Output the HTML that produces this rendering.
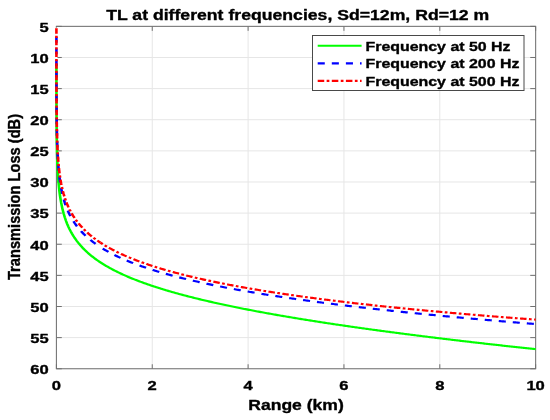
<!DOCTYPE html>
<html><head><meta charset="utf-8"><title>TL at different frequencies</title>
<style>html,body{margin:0;padding:0;background:#fff}svg{display:block}text{font-family:"Liberation Sans",Arial,Helvetica,sans-serif;font-weight:bold;fill:#000;stroke:#000;stroke-width:0.35px;stroke-linejoin:round}</style></head><body>
<svg width="550" height="420" viewBox="0 0 550 420">
<defs><filter id="soft" x="0" y="0" width="100%" height="100%" filterUnits="userSpaceOnUse"><feGaussianBlur stdDeviation="0.45"/></filter></defs>
<rect width="550" height="420" fill="#fff"/>
<g filter="url(#soft)">
<rect width="550" height="420" fill="#fff"/>
<path d="M152.25,26.35V368.75M248.10,26.35V368.75M343.95,26.35V368.75M439.80,26.35V368.75M56.4,57.48H535.65M56.4,88.60H535.65M56.4,119.73H535.65M56.4,150.86H535.65M56.4,181.99H535.65M56.4,213.11H535.65M56.4,244.24H535.65M56.4,275.37H535.65M56.4,306.50H535.65M56.4,337.62H535.65" stroke="#e6e6e6" stroke-width="1" fill="none"/>
<path d="M56.40,368.75v-4.5M56.40,26.35v4.5M152.25,368.75v-4.5M152.25,26.35v4.5M248.10,368.75v-4.5M248.10,26.35v4.5M343.95,368.75v-4.5M343.95,26.35v4.5M439.80,368.75v-4.5M439.80,26.35v4.5M535.65,368.75v-4.5M535.65,26.35v4.5M56.4,26.35h5.4M535.65,26.35h-5.4M56.4,57.48h5.4M535.65,57.48h-5.4M56.4,88.60h5.4M535.65,88.60h-5.4M56.4,119.73h5.4M535.65,119.73h-5.4M56.4,150.86h5.4M535.65,150.86h-5.4M56.4,181.99h5.4M535.65,181.99h-5.4M56.4,213.11h5.4M535.65,213.11h-5.4M56.4,244.24h5.4M535.65,244.24h-5.4M56.4,275.37h5.4M535.65,275.37h-5.4M56.4,306.50h5.4M535.65,306.50h-5.4M56.4,337.62h5.4M535.65,337.62h-5.4M56.4,368.75h5.4M535.65,368.75h-5.4" stroke="#707070" stroke-width="1" fill="none"/>
<rect x="56.4" y="26.35" width="479.25" height="342.4" fill="none" stroke="#707070" stroke-width="1.05"/>
<path d="M56.4,27.6V63" stroke="#fff" stroke-width="2"/>
<g transform="scale(1.21,1)" fill="none" stroke-width="2.15" stroke-linejoin="round">
<path d="M46.63,64.00 L46.63,64.52 L46.63,65.94 L46.63,67.37 L46.63,68.80 L46.63,70.22 L46.63,71.65 L46.63,73.08 L46.63,74.50 L46.64,75.93 L46.64,77.36 L46.64,78.79 L46.64,80.21 L46.64,81.64 L46.64,83.07 L46.65,84.50 L46.65,85.92 L46.65,87.35 L46.65,88.78 L46.66,90.21 L46.66,91.64 L46.66,93.07 L46.66,94.49 L46.67,95.92 L46.67,97.35 L46.67,98.78 L46.68,100.21 L46.68,101.64 L46.68,103.07 L46.69,104.50 L46.69,105.93 L46.70,107.36 L46.70,108.79 L46.71,110.22 L46.72,111.66 L46.72,113.09 L46.73,114.52 L46.73,115.95 L46.74,117.38 L46.75,118.82 L46.76,120.25 L46.77,121.68 L46.78,123.12 L46.79,124.55 L46.80,125.98 L46.81,127.42 L46.82,128.85 L46.83,130.29 L46.84,131.72 L46.86,133.16 L46.87,134.60 L46.89,136.03 L46.90,137.47 L46.92,138.91 L46.94,140.34 L46.96,141.78 L46.98,143.22 L47.00,144.66 L47.03,146.10 L47.05,147.54 L47.08,148.98 L47.11,150.42 L47.13,151.87 L47.17,153.31 L47.20,154.75 L47.23,156.20 L47.27,157.64 L47.31,159.09 L47.35,160.53 L47.40,161.98 L47.44,163.43 L47.49,164.87 L47.54,166.32 L47.60,167.77 L47.66,169.22 L47.72,170.67 L47.79,172.13 L47.86,173.58 L47.93,175.03 L48.01,176.49 L48.09,177.95 L48.18,179.40 L48.27,180.86 L48.37,182.32 L48.48,183.78 L48.59,185.25 L48.71,186.71 L48.83,188.17 L48.96,189.64 L49.10,191.11 L49.25,192.58 L49.41,194.05 L49.58,195.52 L49.75,197.00 L49.94,198.47 L50.14,199.95 L50.35,201.43 L50.57,202.91 L51.56,208.60 L52.54,213.29 L53.52,217.27 L54.50,220.74 L55.49,223.82 L56.47,226.58 L57.45,229.09 L58.43,231.40 L59.42,233.53 L60.40,235.50 L61.38,237.35 L62.37,239.09 L63.35,240.73 L64.33,242.27 L65.31,243.74 L66.30,245.14 L67.28,246.48 L68.26,247.76 L69.24,248.98 L70.23,250.16 L71.21,251.29 L72.19,252.38 L73.18,253.44 L74.16,254.46 L75.14,255.44 L76.12,256.40 L77.11,257.32 L78.09,258.22 L79.07,259.10 L80.05,259.95 L81.04,260.78 L82.02,261.59 L83.00,262.37 L83.99,263.14 L84.97,263.89 L85.95,264.63 L86.93,265.34 L87.92,266.05 L88.90,266.73 L89.88,267.41 L90.86,268.07 L91.85,268.71 L92.83,269.35 L93.81,269.97 L94.80,270.58 L95.78,271.19 L96.76,271.78 L97.74,272.36 L98.73,272.93 L99.71,273.49 L100.69,274.04 L101.67,274.59 L102.66,275.12 L103.64,275.65 L104.62,276.17 L105.61,276.68 L106.59,277.19 L107.57,277.68 L108.55,278.18 L109.54,278.66 L110.52,279.14 L111.50,279.61 L112.48,280.08 L113.47,280.54 L114.45,280.99 L115.43,281.44 L116.42,281.88 L117.40,282.32 L118.38,282.75 L119.36,283.18 L120.35,283.61 L121.33,284.02 L122.31,284.44 L123.30,284.85 L124.28,285.25 L125.26,285.66 L126.24,286.05 L127.23,286.44 L128.21,286.83 L129.19,287.22 L130.17,287.60 L131.16,287.98 L132.14,288.35 L133.12,288.72 L134.11,289.09 L135.09,289.45 L136.07,289.81 L137.05,290.17 L138.04,290.53 L139.02,290.88 L140.00,291.22 L140.98,291.57 L141.97,291.91 L142.95,292.25 L143.93,292.59 L144.92,292.92 L145.90,293.25 L146.88,293.58 L147.86,293.91 L148.85,294.23 L149.83,294.55 L150.81,294.87 L151.79,295.19 L152.78,295.50 L153.76,295.81 L154.74,296.12 L155.73,296.43 L156.71,296.73 L157.69,297.04 L158.67,297.34 L159.66,297.64 L160.64,297.93 L161.62,298.23 L162.60,298.52 L163.59,298.81 L164.57,299.10 L165.55,299.39 L166.54,299.67 L167.52,299.96 L168.50,300.24 L169.48,300.52 L170.47,300.80 L171.45,301.07 L172.43,301.35 L173.41,301.62 L174.40,301.89 L175.38,302.16 L176.36,302.43 L177.35,302.70 L178.33,302.96 L179.31,303.22 L180.29,303.49 L181.28,303.75 L182.26,304.01 L183.24,304.26 L184.23,304.52 L185.21,304.78 L186.19,305.03 L187.17,305.28 L188.16,305.53 L189.14,305.78 L190.12,306.03 L191.10,306.28 L192.09,306.52 L193.07,306.77 L194.05,307.01 L195.04,307.26 L196.02,307.50 L197.00,307.74 L197.98,307.97 L198.97,308.21 L199.95,308.45 L200.93,308.68 L201.91,308.92 L202.90,309.15 L203.88,309.38 L204.86,309.61 L205.85,309.84 L206.83,310.07 L207.81,310.30 L208.79,310.53 L209.78,310.75 L210.76,310.98 L211.74,311.20 L212.72,311.43 L213.71,311.65 L214.69,311.87 L215.67,312.09 L216.66,312.31 L217.64,312.53 L218.62,312.74 L219.60,312.96 L220.59,313.18 L221.57,313.39 L222.55,313.60 L223.53,313.82 L224.52,314.03 L225.50,314.24 L226.48,314.45 L227.47,314.66 L228.45,314.87 L229.43,315.08 L230.41,315.29 L231.40,315.49 L232.38,315.70 L233.36,315.90 L234.34,316.11 L235.33,316.31 L236.31,316.51 L237.29,316.71 L238.28,316.92 L239.26,317.12 L240.24,317.32 L241.22,317.51 L242.21,317.71 L243.19,317.91 L244.17,318.11 L245.16,318.30 L246.14,318.50 L247.12,318.69 L248.10,318.89 L249.09,319.08 L250.07,319.28 L251.05,319.47 L252.03,319.66 L253.02,319.85 L254.00,320.04 L254.98,320.23 L255.97,320.42 L256.95,320.61 L257.93,320.80 L258.91,320.98 L259.90,321.17 L260.88,321.36 L261.86,321.54 L262.84,321.73 L263.83,321.91 L264.81,322.10 L265.79,322.28 L266.78,322.46 L267.76,322.64 L268.74,322.83 L269.72,323.01 L270.71,323.19 L271.69,323.37 L272.67,323.55 L273.65,323.73 L274.64,323.90 L275.62,324.08 L276.60,324.26 L277.59,324.44 L278.57,324.61 L279.55,324.79 L280.53,324.96 L281.52,325.14 L282.50,325.31 L283.48,325.49 L284.46,325.66 L285.45,325.83 L286.43,326.01 L287.41,326.18 L288.40,326.35 L289.38,326.52 L290.36,326.69 L291.34,326.86 L292.33,327.03 L293.31,327.20 L294.29,327.37 L295.27,327.54 L296.26,327.71 L297.24,327.87 L298.22,328.04 L299.21,328.21 L300.19,328.37 L301.17,328.54 L302.15,328.71 L303.14,328.87 L304.12,329.03 L305.10,329.20 L306.08,329.36 L307.07,329.53 L308.05,329.69 L309.03,329.85 L310.02,330.01 L311.00,330.18 L311.98,330.34 L312.96,330.50 L313.95,330.66 L314.93,330.82 L315.91,330.98 L316.90,331.14 L317.88,331.30 L318.86,331.46 L319.84,331.62 L320.83,331.77 L321.81,331.93 L322.79,332.09 L323.77,332.25 L324.76,332.40 L325.74,332.56 L326.72,332.71 L327.71,332.87 L328.69,333.03 L329.67,333.18 L330.65,333.34 L331.64,333.49 L332.62,333.64 L333.60,333.80 L334.58,333.95 L335.57,334.10 L336.55,334.26 L337.53,334.41 L338.52,334.56 L339.50,334.71 L340.48,334.86 L341.46,335.01 L342.45,335.16 L343.43,335.31 L344.41,335.46 L345.39,335.61 L346.38,335.76 L347.36,335.91 L348.34,336.06 L349.33,336.21 L350.31,336.36 L351.29,336.51 L352.27,336.65 L353.26,336.80 L354.24,336.95 L355.22,337.10 L356.20,337.24 L357.19,337.39 L358.17,337.53 L359.15,337.68 L360.14,337.83 L361.12,337.97 L362.10,338.11 L363.08,338.26 L364.07,338.40 L365.05,338.55 L366.03,338.69 L367.01,338.83 L368.00,338.98 L368.98,339.12 L369.96,339.26 L370.95,339.41 L371.93,339.55 L372.91,339.69 L373.89,339.83 L374.88,339.97 L375.86,340.11 L376.84,340.25 L377.83,340.40 L378.81,340.54 L379.79,340.68 L380.77,340.82 L381.76,340.96 L382.74,341.09 L383.72,341.23 L384.70,341.37 L385.69,341.51 L386.67,341.65 L387.65,341.79 L388.64,341.93 L389.62,342.06 L390.60,342.20 L391.58,342.34 L392.57,342.47 L393.55,342.61 L394.53,342.75 L395.51,342.88 L396.50,343.02 L397.48,343.16 L398.46,343.29 L399.45,343.43 L400.43,343.56 L401.41,343.70 L402.39,343.83 L403.38,343.97 L404.36,344.10 L405.34,344.24 L406.32,344.37 L407.31,344.50 L408.29,344.64 L409.27,344.77 L410.26,344.90 L411.24,345.04 L412.22,345.17 L413.20,345.30 L414.19,345.43 L415.17,345.56 L416.15,345.70 L417.13,345.83 L418.12,345.96 L419.10,346.09 L420.08,346.22 L421.07,346.35 L422.05,346.48 L423.03,346.61 L424.01,346.74 L425.00,346.87 L425.98,347.00 L426.96,347.13 L427.94,347.26 L428.93,347.39 L429.91,347.52 L430.89,347.65 L431.88,347.78 L432.86,347.91 L433.84,348.03 L434.82,348.16 L435.81,348.29 L436.79,348.42 L437.77,348.55 L438.75,348.67 L439.74,348.80 L440.72,348.93 L441.70,349.05 L442.69,349.18" stroke="#00ff00"/>
<path d="M46.62,36.80 L46.62,37.67 L46.62,39.06 L46.62,40.44 L46.62,41.83 L46.62,43.22 L46.62,44.61 L46.62,46.00 L46.62,47.39 L46.62,48.77 L46.63,50.16 L46.63,51.55 L46.63,52.94 L46.63,54.33 L46.63,55.72 L46.63,57.11 L46.63,58.50 L46.63,59.89 L46.63,61.28 L46.63,62.67 L46.64,64.06 L46.64,65.45 L46.64,66.84 L46.64,68.23 L46.64,69.62 L46.64,71.01 L46.65,72.40 L46.65,73.79 L46.65,75.19 L46.65,76.58 L46.66,77.97 L46.66,79.36 L46.66,80.76 L46.66,82.15 L46.67,83.54 L46.67,84.94 L46.67,86.33 L46.68,87.72 L46.68,89.12 L46.68,90.51 L46.69,91.91 L46.69,93.30 L46.70,94.70 L46.70,96.09 L46.71,97.49 L46.72,98.89 L46.72,100.29 L46.73,101.68 L46.73,103.08 L46.74,104.48 L46.75,105.88 L46.76,107.28 L46.77,108.68 L46.78,110.08 L46.79,111.48 L46.80,112.88 L46.81,114.28 L46.82,115.68 L46.83,117.08 L46.84,118.49 L46.86,119.89 L46.87,121.30 L46.89,122.70 L46.90,124.11 L46.92,125.51 L46.94,126.92 L46.96,128.33 L46.98,129.73 L47.00,131.14 L47.03,132.55 L47.05,133.96 L47.08,135.37 L47.11,136.79 L47.13,138.20 L47.17,139.61 L47.20,141.03 L47.23,142.44 L47.27,143.86 L47.31,145.28 L47.35,146.69 L47.40,148.11 L47.44,149.53 L47.49,150.95 L47.54,152.38 L47.60,153.80 L47.66,155.22 L47.72,156.65 L47.79,158.08 L47.86,159.51 L47.93,160.94 L48.01,162.37 L48.09,163.80 L48.18,165.23 L48.27,166.67 L48.37,168.10 L48.48,169.54 L48.59,170.98 L48.71,172.42 L48.83,173.87 L48.96,175.31 L49.10,176.76 L49.25,178.21 L49.41,179.66 L49.58,181.11 L49.75,182.56 L49.94,184.02 L50.14,185.48 L50.35,186.94 L50.57,188.40 L51.56,194.03 L52.54,198.66 L53.52,202.60 L54.50,206.04 L55.49,209.08 L56.47,211.82 L57.45,214.31 L58.43,216.59 L59.42,218.69 L60.40,220.65 L61.38,222.48 L62.37,224.20 L63.35,225.82 L64.33,227.35 L65.31,228.80 L66.30,230.18 L67.28,231.50 L68.26,232.76 L69.24,233.97 L70.23,235.13 L71.21,236.25 L72.19,237.32 L73.18,238.36 L74.16,239.36 L75.14,240.33 L76.12,241.27 L77.11,242.18 L78.09,243.06 L79.07,243.92 L80.05,244.75 L81.04,245.56 L82.02,246.35 L83.00,247.12" stroke="#0000ff" stroke-dasharray="5.85 5.8"/>
<path d="M442.69,324.05 L441.70,323.96 L440.72,323.86 L439.74,323.77 L438.75,323.67 L437.77,323.58 L436.79,323.48 L435.81,323.38 L434.82,323.29 L433.84,323.19 L432.86,323.09 L431.88,323.00 L430.89,322.90 L429.91,322.80 L428.93,322.70 L427.94,322.60 L426.96,322.51 L425.98,322.41 L425.00,322.31 L424.01,322.21 L423.03,322.11 L422.05,322.01 L421.07,321.91 L420.08,321.81 L419.10,321.71 L418.12,321.61 L417.13,321.51 L416.15,321.41 L415.17,321.31 L414.19,321.21 L413.20,321.11 L412.22,321.01 L411.24,320.91 L410.26,320.80 L409.27,320.70 L408.29,320.60 L407.31,320.50 L406.32,320.39 L405.34,320.29 L404.36,320.19 L403.38,320.08 L402.39,319.98 L401.41,319.88 L400.43,319.77 L399.45,319.67 L398.46,319.56 L397.48,319.46 L396.50,319.35 L395.51,319.25 L394.53,319.14 L393.55,319.04 L392.57,318.93 L391.58,318.82 L390.60,318.72 L389.62,318.61 L388.64,318.50 L387.65,318.40 L386.67,318.29 L385.69,318.18 L384.70,318.07 L383.72,317.97 L382.74,317.86 L381.76,317.75 L380.77,317.64 L379.79,317.53 L378.81,317.42 L377.83,317.31 L376.84,317.20 L375.86,317.09 L374.88,316.98 L373.89,316.87 L372.91,316.76 L371.93,316.64 L370.95,316.53 L369.96,316.42 L368.98,316.31 L368.00,316.20 L367.01,316.08 L366.03,315.97 L365.05,315.86 L364.07,315.74 L363.08,315.63 L362.10,315.51 L361.12,315.40 L360.14,315.28 L359.15,315.17 L358.17,315.05 L357.19,314.94 L356.20,314.82 L355.22,314.71 L354.24,314.59 L353.26,314.47 L352.27,314.35 L351.29,314.24 L350.31,314.12 L349.33,314.00 L348.34,313.88 L347.36,313.76 L346.38,313.64 L345.39,313.52 L344.41,313.40 L343.43,313.28 L342.45,313.16 L341.46,313.04 L340.48,312.92 L339.50,312.80 L338.52,312.68 L337.53,312.56 L336.55,312.43 L335.57,312.31 L334.58,312.19 L333.60,312.06 L332.62,311.94 L331.64,311.82 L330.65,311.69 L329.67,311.57 L328.69,311.44 L327.71,311.31 L326.72,311.19 L325.74,311.06 L324.76,310.94 L323.77,310.81 L322.79,310.68 L321.81,310.55 L320.83,310.42 L319.84,310.30 L318.86,310.17 L317.88,310.04 L316.90,309.91 L315.91,309.78 L314.93,309.65 L313.95,309.52 L312.96,309.38 L311.98,309.25 L311.00,309.12 L310.02,308.99 L309.03,308.85 L308.05,308.72 L307.07,308.59 L306.08,308.45 L305.10,308.32 L304.12,308.18 L303.14,308.05 L302.15,307.91 L301.17,307.77 L300.19,307.64 L299.21,307.50 L298.22,307.36 L297.24,307.22 L296.26,307.09 L295.27,306.95 L294.29,306.81 L293.31,306.67 L292.33,306.53 L291.34,306.39 L290.36,306.24 L289.38,306.10 L288.40,305.96 L287.41,305.82 L286.43,305.67 L285.45,305.53 L284.46,305.39 L283.48,305.24 L282.50,305.09 L281.52,304.95 L280.53,304.80 L279.55,304.66 L278.57,304.51 L277.59,304.36 L276.60,304.21 L275.62,304.06 L274.64,303.91 L273.65,303.76 L272.67,303.61 L271.69,303.46 L270.71,303.31 L269.72,303.16 L268.74,303.00 L267.76,302.85 L266.78,302.70 L265.79,302.54 L264.81,302.39 L263.83,302.23 L262.84,302.07 L261.86,301.92 L260.88,301.76 L259.90,301.60 L258.91,301.44 L257.93,301.28 L256.95,301.12 L255.97,300.96 L254.98,300.80 L254.00,300.64 L253.02,300.48 L252.03,300.31 L251.05,300.15 L250.07,299.99 L249.09,299.82 L248.10,299.65 L247.12,299.49 L246.14,299.32 L245.16,299.15 L244.17,298.98 L243.19,298.81 L242.21,298.64 L241.22,298.47 L240.24,298.30 L239.26,298.13 L238.28,297.96 L237.29,297.78 L236.31,297.61 L235.33,297.43 L234.34,297.26 L233.36,297.08 L232.38,296.90 L231.40,296.72 L230.41,296.54 L229.43,296.36 L228.45,296.18 L227.47,296.00 L226.48,295.82 L225.50,295.63 L224.52,295.45 L223.53,295.26 L222.55,295.08 L221.57,294.89 L220.59,294.70 L219.60,294.51 L218.62,294.32 L217.64,294.13 L216.66,293.94 L215.67,293.75 L214.69,293.56 L213.71,293.36 L212.72,293.17 L211.74,292.97 L210.76,292.77 L209.78,292.57 L208.79,292.37 L207.81,292.17 L206.83,291.97 L205.85,291.77 L204.86,291.57 L203.88,291.36 L202.90,291.15 L201.91,290.95 L200.93,290.74 L199.95,290.53 L198.97,290.32 L197.98,290.11 L197.00,289.89 L196.02,289.68 L195.04,289.46 L194.05,289.25 L193.07,289.03 L192.09,288.81 L191.10,288.59 L190.12,288.37 L189.14,288.15 L188.16,287.92 L187.17,287.70 L186.19,287.47 L185.21,287.24 L184.23,287.01 L183.24,286.78 L182.26,286.55 L181.28,286.31 L180.29,286.08 L179.31,285.84 L178.33,285.60 L177.35,285.36 L176.36,285.12 L175.38,284.88 L174.40,284.63 L173.41,284.38 L172.43,284.14 L171.45,283.89 L170.47,283.63 L169.48,283.38 L168.50,283.13 L167.52,282.87 L166.54,282.61 L165.55,282.35 L164.57,282.09 L163.59,281.82 L162.60,281.55 L161.62,281.29 L160.64,281.02 L159.66,280.74 L158.67,280.47 L157.69,280.19 L156.71,279.91 L155.73,279.63 L154.74,279.35 L153.76,279.06 L152.78,278.77 L151.79,278.48 L150.81,278.19 L149.83,277.90 L148.85,277.60 L147.86,277.30 L146.88,276.99 L145.90,276.69 L144.92,276.38 L143.93,276.07 L142.95,275.76 L141.97,275.44 L140.98,275.12 L140.00,274.80 L139.02,274.47 L138.04,274.14 L137.05,273.81 L136.07,273.48 L135.09,273.14 L134.11,272.80 L133.12,272.45 L132.14,272.10 L131.16,271.75 L130.17,271.40 L129.19,271.04 L128.21,270.67 L127.23,270.31 L126.24,269.94 L125.26,269.56 L124.28,269.18 L123.30,268.80 L122.31,268.41 L121.33,268.02 L120.35,267.62 L119.36,267.22 L118.38,266.81 L117.40,266.40 L116.42,265.98 L115.43,265.56 L114.45,265.13 L113.47,264.70 L112.48,264.26 L111.50,263.81 L110.52,263.36 L109.54,262.90 L108.55,262.44 L107.57,261.97 L106.59,261.49 L105.61,261.00 L104.62,260.51 L103.64,260.01 L102.66,259.50 L101.67,258.99 L100.69,258.46 L99.71,257.93 L98.73,257.38 L97.74,256.83 L96.76,256.27 L95.78,255.70 L94.80,255.12 L93.81,254.52 L92.83,253.92 L91.85,253.30 L90.86,252.67 L89.88,252.03 L88.90,251.38 L87.92,250.71 L86.93,250.02 L85.95,249.32 L84.97,248.61 L83.99,247.87 L83.00,247.12" stroke="#0000ff" stroke-dasharray="5.85 5.8" stroke-dashoffset="10.15"/>
<path d="M46.62,28.30 L46.62,28.63 L46.62,29.93 L46.62,31.23 L46.62,32.53 L46.62,33.83 L46.62,35.14 L46.62,36.44 L46.62,37.74 L46.62,39.04 L46.62,40.35 L46.62,41.65 L46.62,42.95 L46.62,44.26 L46.62,45.56 L46.62,46.86 L46.62,48.17 L46.62,49.47 L46.62,50.78 L46.63,52.08 L46.63,53.39 L46.63,54.69 L46.63,56.00 L46.63,57.30 L46.63,58.61 L46.63,59.92 L46.63,61.22 L46.63,62.53 L46.63,63.84 L46.64,65.14 L46.64,66.45 L46.64,67.76 L46.64,69.07 L46.64,70.38 L46.64,71.69 L46.65,73.00 L46.65,74.31 L46.65,75.62 L46.65,76.93 L46.66,78.24 L46.66,79.55 L46.66,80.86 L46.66,82.18 L46.67,83.49 L46.67,84.80 L46.67,86.12 L46.68,87.43 L46.68,88.75 L46.68,90.06 L46.69,91.38 L46.69,92.70 L46.70,94.01 L46.70,95.33 L46.71,96.65 L46.72,97.97 L46.72,99.29 L46.73,100.61 L46.73,101.93 L46.74,103.26 L46.75,104.58 L46.76,105.90 L46.77,107.23 L46.78,108.55 L46.79,109.88 L46.80,111.21 L46.81,112.53 L46.82,113.86 L46.83,115.19 L46.84,116.52 L46.86,117.85 L46.87,119.19 L46.89,120.52 L46.90,121.86 L46.92,123.19 L46.94,124.53 L46.96,125.87 L46.98,127.21 L47.00,128.55 L47.03,129.89 L47.05,131.23 L47.08,132.58 L47.11,133.92 L47.13,135.27 L47.17,136.62 L47.20,137.97 L47.23,139.32 L47.27,140.68 L47.31,142.03 L47.35,143.39 L47.40,144.75 L47.44,146.11 L47.49,147.47 L47.54,148.84 L47.60,150.20 L47.66,151.57 L47.72,152.94 L47.79,154.31 L47.86,155.69 L47.93,157.06 L48.01,158.44 L48.09,159.82 L48.18,161.21 L48.27,162.59 L48.37,163.98 L48.48,165.37 L48.59,166.77 L48.71,168.17 L48.83,169.57 L48.96,170.97 L49.10,172.37 L49.25,173.78 L49.41,175.19 L49.58,176.61 L49.75,178.03 L49.94,179.45 L50.14,180.88 L50.35,182.30 L50.57,183.74 L51.56,189.26 L52.54,193.83 L53.52,197.72 L54.50,201.13 L55.49,204.16 L56.47,206.88 L57.45,209.37 L58.43,211.65 L59.42,213.76 L60.40,215.73 L61.38,217.57 L62.37,219.30 L63.35,220.93 L64.33,222.47 L65.31,223.94 L66.30,225.34 L67.28,226.68 L68.26,227.96 L69.24,229.19 L70.23,230.37 L71.21,231.50 L72.19,232.59 L73.18,233.65 L74.16,234.67 L75.14,235.66 L76.12,236.62 L77.11,237.55 L78.09,238.45 L79.07,239.33 L80.05,240.18 L81.04,241.01 L82.02,241.82 L83.00,242.61" stroke="#ff0000" stroke-dasharray="5.4 2 2.25 2"/>
<path d="M442.69,319.61 L441.70,319.53 L440.72,319.44 L439.74,319.35 L438.75,319.27 L437.77,319.18 L436.79,319.09 L435.81,319.00 L434.82,318.92 L433.84,318.83 L432.86,318.74 L431.88,318.65 L430.89,318.56 L429.91,318.47 L428.93,318.38 L427.94,318.29 L426.96,318.20 L425.98,318.11 L425.00,318.02 L424.01,317.93 L423.03,317.84 L422.05,317.75 L421.07,317.66 L420.08,317.57 L419.10,317.47 L418.12,317.38 L417.13,317.29 L416.15,317.20 L415.17,317.10 L414.19,317.01 L413.20,316.92 L412.22,316.82 L411.24,316.73 L410.26,316.64 L409.27,316.54 L408.29,316.45 L407.31,316.35 L406.32,316.26 L405.34,316.16 L404.36,316.07 L403.38,315.97 L402.39,315.88 L401.41,315.78 L400.43,315.68 L399.45,315.59 L398.46,315.49 L397.48,315.39 L396.50,315.29 L395.51,315.20 L394.53,315.10 L393.55,315.00 L392.57,314.90 L391.58,314.80 L390.60,314.70 L389.62,314.60 L388.64,314.50 L387.65,314.40 L386.67,314.30 L385.69,314.20 L384.70,314.10 L383.72,314.00 L382.74,313.90 L381.76,313.79 L380.77,313.69 L379.79,313.59 L378.81,313.49 L377.83,313.38 L376.84,313.28 L375.86,313.18 L374.88,313.07 L373.89,312.97 L372.91,312.86 L371.93,312.76 L370.95,312.65 L369.96,312.55 L368.98,312.44 L368.00,312.34 L367.01,312.23 L366.03,312.12 L365.05,312.02 L364.07,311.91 L363.08,311.80 L362.10,311.69 L361.12,311.59 L360.14,311.48 L359.15,311.37 L358.17,311.26 L357.19,311.15 L356.20,311.04 L355.22,310.93 L354.24,310.82 L353.26,310.71 L352.27,310.59 L351.29,310.48 L350.31,310.37 L349.33,310.26 L348.34,310.15 L347.36,310.03 L346.38,309.92 L345.39,309.81 L344.41,309.69 L343.43,309.58 L342.45,309.46 L341.46,309.35 L340.48,309.23 L339.50,309.11 L338.52,309.00 L337.53,308.88 L336.55,308.76 L335.57,308.65 L334.58,308.53 L333.60,308.41 L332.62,308.29 L331.64,308.17 L330.65,308.05 L329.67,307.93 L328.69,307.81 L327.71,307.69 L326.72,307.57 L325.74,307.45 L324.76,307.33 L323.77,307.21 L322.79,307.08 L321.81,306.96 L320.83,306.84 L319.84,306.71 L318.86,306.59 L317.88,306.46 L316.90,306.34 L315.91,306.21 L314.93,306.09 L313.95,305.96 L312.96,305.83 L311.98,305.70 L311.00,305.58 L310.02,305.45 L309.03,305.32 L308.05,305.19 L307.07,305.06 L306.08,304.93 L305.10,304.80 L304.12,304.67 L303.14,304.54 L302.15,304.40 L301.17,304.27 L300.19,304.14 L299.21,304.01 L298.22,303.87 L297.24,303.74 L296.26,303.60 L295.27,303.47 L294.29,303.33 L293.31,303.19 L292.33,303.06 L291.34,302.92 L290.36,302.78 L289.38,302.64 L288.40,302.50 L287.41,302.36 L286.43,302.22 L285.45,302.08 L284.46,301.94 L283.48,301.80 L282.50,301.66 L281.52,301.51 L280.53,301.37 L279.55,301.23 L278.57,301.08 L277.59,300.94 L276.60,300.79 L275.62,300.64 L274.64,300.50 L273.65,300.35 L272.67,300.20 L271.69,300.05 L270.71,299.90 L269.72,299.75 L268.74,299.60 L267.76,299.45 L266.78,299.30 L265.79,299.15 L264.81,298.99 L263.83,298.84 L262.84,298.69 L261.86,298.53 L260.88,298.37 L259.90,298.22 L258.91,298.06 L257.93,297.90 L256.95,297.75 L255.97,297.59 L254.98,297.43 L254.00,297.27 L253.02,297.10 L252.03,296.94 L251.05,296.78 L250.07,296.62 L249.09,296.45 L248.10,296.29 L247.12,296.12 L246.14,295.96 L245.16,295.79 L244.17,295.62 L243.19,295.45 L242.21,295.28 L241.22,295.11 L240.24,294.94 L239.26,294.77 L238.28,294.60 L237.29,294.42 L236.31,294.25 L235.33,294.07 L234.34,293.90 L233.36,293.72 L232.38,293.54 L231.40,293.36 L230.41,293.18 L229.43,293.00 L228.45,292.82 L227.47,292.64 L226.48,292.46 L225.50,292.27 L224.52,292.09 L223.53,291.90 L222.55,291.72 L221.57,291.53 L220.59,291.34 L219.60,291.15 L218.62,290.96 L217.64,290.77 L216.66,290.58 L215.67,290.38 L214.69,290.19 L213.71,289.99 L212.72,289.79 L211.74,289.60 L210.76,289.40 L209.78,289.20 L208.79,289.00 L207.81,288.79 L206.83,288.59 L205.85,288.39 L204.86,288.18 L203.88,287.97 L202.90,287.76 L201.91,287.56 L200.93,287.35 L199.95,287.13 L198.97,286.92 L197.98,286.71 L197.00,286.49 L196.02,286.27 L195.04,286.06 L194.05,285.84 L193.07,285.62 L192.09,285.39 L191.10,285.17 L190.12,284.94 L189.14,284.72 L188.16,284.49 L187.17,284.26 L186.19,284.03 L185.21,283.80 L184.23,283.57 L183.24,283.33 L182.26,283.09 L181.28,282.86 L180.29,282.62 L179.31,282.37 L178.33,282.13 L177.35,281.89 L176.36,281.64 L175.38,281.39 L174.40,281.14 L173.41,280.89 L172.43,280.64 L171.45,280.38 L170.47,280.13 L169.48,279.87 L168.50,279.61 L167.52,279.34 L166.54,279.08 L165.55,278.81 L164.57,278.54 L163.59,278.27 L162.60,278.00 L161.62,277.73 L160.64,277.45 L159.66,277.17 L158.67,276.89 L157.69,276.61 L156.71,276.32 L155.73,276.03 L154.74,275.74 L153.76,275.45 L152.78,275.15 L151.79,274.86 L150.81,274.56 L149.83,274.25 L148.85,273.95 L147.86,273.64 L146.88,273.33 L145.90,273.02 L144.92,272.70 L143.93,272.38 L142.95,272.06 L141.97,271.73 L140.98,271.41 L140.00,271.07 L139.02,270.74 L138.04,270.40 L137.05,270.06 L136.07,269.72 L135.09,269.37 L134.11,269.02 L133.12,268.66 L132.14,268.31 L131.16,267.94 L130.17,267.58 L129.19,267.21 L128.21,266.83 L127.23,266.46 L126.24,266.07 L125.26,265.69 L124.28,265.30 L123.30,264.90 L122.31,264.50 L121.33,264.10 L120.35,263.69 L119.36,263.27 L118.38,262.85 L117.40,262.43 L116.42,262.00 L115.43,261.57 L114.45,261.12 L113.47,260.68 L112.48,260.22 L111.50,259.77 L110.52,259.30 L109.54,258.83 L108.55,258.35 L107.57,257.87 L106.59,257.37 L105.61,256.87 L104.62,256.37 L103.64,255.85 L102.66,255.33 L101.67,254.80 L100.69,254.26 L99.71,253.71 L98.73,253.15 L97.74,252.58 L96.76,252.00 L95.78,251.42 L94.80,250.82 L93.81,250.21 L92.83,249.59 L91.85,248.95 L90.86,248.31 L89.88,247.65 L88.90,246.97 L87.92,246.29 L86.93,245.58 L85.95,244.86 L84.97,244.13 L83.99,243.38 L83.00,242.61" stroke="#ff0000" stroke-dasharray="5.4 2 2.25 2" stroke-dashoffset="4.07"/>
</g>
<text transform="translate(56.4,389.9) scale(1.22,1)" font-size="13.6" text-anchor="middle">0</text>
<text transform="translate(152.2,389.9) scale(1.22,1)" font-size="13.6" text-anchor="middle">2</text>
<text transform="translate(248.1,389.9) scale(1.22,1)" font-size="13.6" text-anchor="middle">4</text>
<text transform="translate(343.9,389.9) scale(1.22,1)" font-size="13.6" text-anchor="middle">6</text>
<text transform="translate(439.8,389.9) scale(1.22,1)" font-size="13.6" text-anchor="middle">8</text>
<text transform="translate(535.6,389.9) scale(1.22,1)" font-size="13.6" text-anchor="middle">10</text>
<text transform="translate(48.8,31.7) scale(1.22,1)" font-size="13.6" text-anchor="end">5</text>
<text transform="translate(48.8,62.8) scale(1.22,1)" font-size="13.6" text-anchor="end">10</text>
<text transform="translate(48.8,93.9) scale(1.22,1)" font-size="13.6" text-anchor="end">15</text>
<text transform="translate(48.8,125.0) scale(1.22,1)" font-size="13.6" text-anchor="end">20</text>
<text transform="translate(48.8,156.2) scale(1.22,1)" font-size="13.6" text-anchor="end">25</text>
<text transform="translate(48.8,187.3) scale(1.22,1)" font-size="13.6" text-anchor="end">30</text>
<text transform="translate(48.8,218.4) scale(1.22,1)" font-size="13.6" text-anchor="end">35</text>
<text transform="translate(48.8,249.5) scale(1.22,1)" font-size="13.6" text-anchor="end">40</text>
<text transform="translate(48.8,280.7) scale(1.22,1)" font-size="13.6" text-anchor="end">45</text>
<text transform="translate(48.8,311.8) scale(1.22,1)" font-size="13.6" text-anchor="end">50</text>
<text transform="translate(48.8,342.9) scale(1.22,1)" font-size="13.6" text-anchor="end">55</text>
<text transform="translate(48.8,374.1) scale(1.22,1)" font-size="13.6" text-anchor="end">60</text>
<text transform="translate(297.7,19.7) scale(1.203,1)" font-size="14.67" text-anchor="middle">TL at different frequencies, Sd=12m, Rd=12 m</text>
<text transform="translate(296,409.6) scale(1.195,1)" font-size="14.67" text-anchor="middle">Range (km)</text>
<text transform="translate(20.3,197) rotate(-90) scale(1,1.12)" font-size="14.67" text-anchor="middle">Transmission Loss (dB)</text>
<rect x="312.5" y="35.5" width="211.5" height="55" fill="#fff" stroke="#4a4a4a" stroke-width="1"/>
<g transform="scale(1.21,1)" fill="none" stroke-width="2.15">
<path d="M262.56,45.7H298.84" stroke="#00ff00"/>
<path d="M262.56,63.3H298.84" stroke="#0000ff" stroke-dasharray="5.85 5.8"/>
<path d="M262.56,80.9H298.84" stroke="#ff0000" stroke-dasharray="5.4 2 2.25 2"/>
</g>
<text transform="translate(365.5,50.6) scale(1.195,1)" font-size="13.33" text-anchor="start">Frequency at 50 Hz</text>
<text transform="translate(365.5,68.2) scale(1.195,1)" font-size="13.33" text-anchor="start">Frequency at 200 Hz</text>
<text transform="translate(365.5,85.8) scale(1.195,1)" font-size="13.33" text-anchor="start">Frequency at 500 Hz</text>
</g>
</svg></body></html>
